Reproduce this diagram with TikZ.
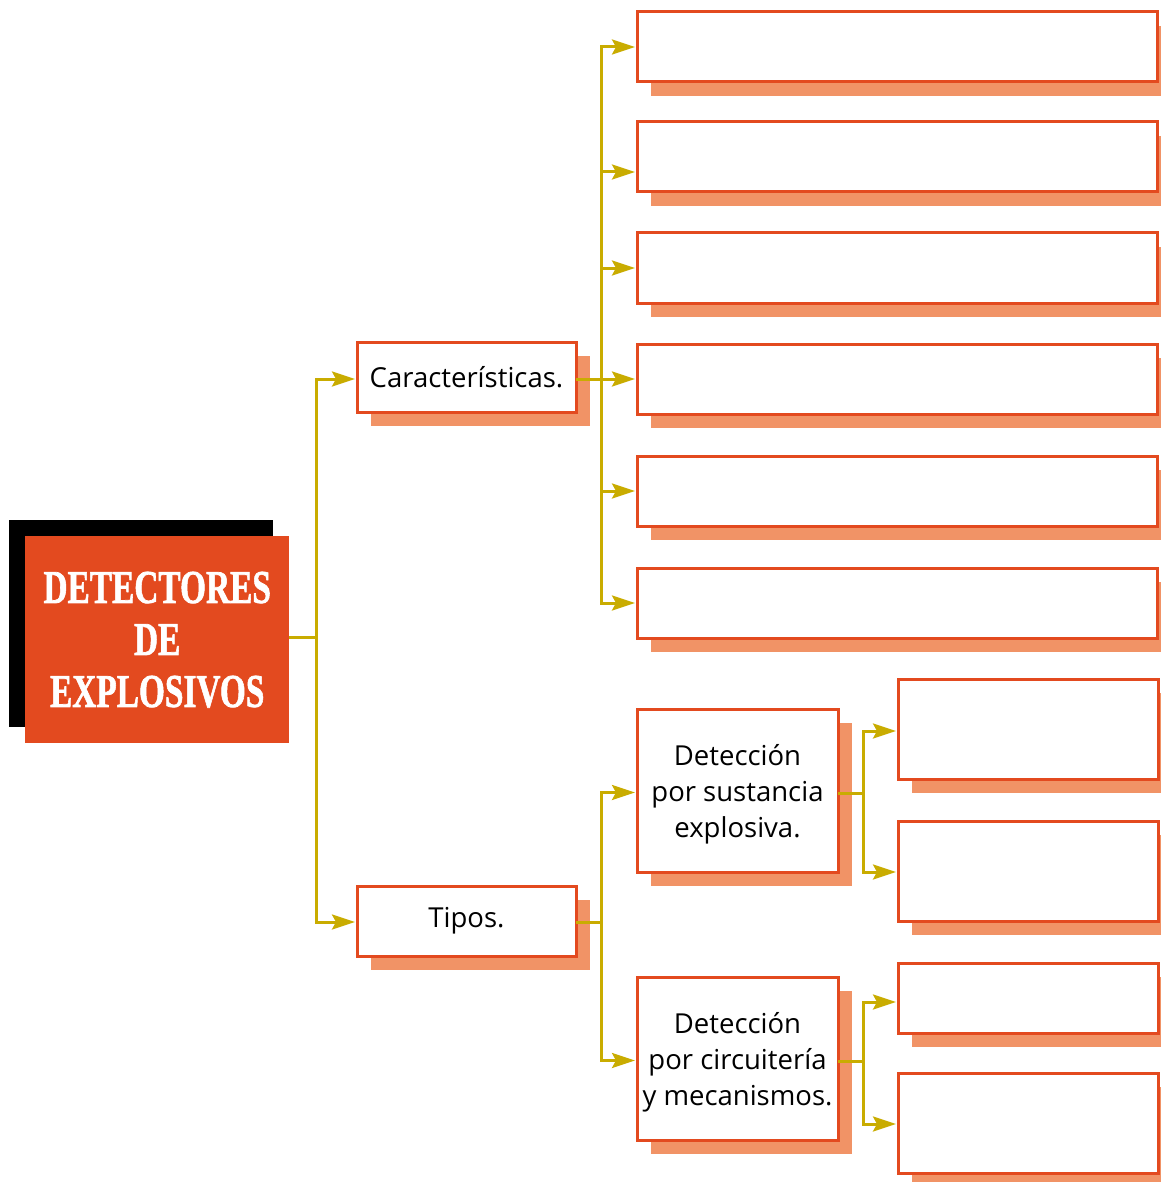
\documentclass[tikz,border=0pt]{standalone}
\usepackage{fontspec}
\setmainfont{Open Sans}
\newfontfamily\titlefont[FakeBold=1.6]{Liberation Serif Bold}
\usetikzlibrary{arrows.meta,shadows}
\definecolor{boxred}{HTML}{E34A1F}
\definecolor{shade}{HTML}{F19366}
\definecolor{linkc}{HTML}{C9AC00}
\tikzset{
  box/.style={draw=boxred, line width=3pt, fill=white, inner sep=0pt, outer sep=0pt,
    anchor=north west, align=center,
    general shadow={fill=shade, shadow xshift=13.5pt, shadow yshift=-14pt}},
  link/.style={draw=linkc, line width=3pt},
  arr/.style={link, -{Stealth[length=23pt,width=15pt,inset=4pt]}, shorten >=2pt},
  label/.style={font=\fontsize{27.5}{36}\selectfont},
  boxtext/.style={label, align=center, inner sep=0pt},
}
\begin{document}
\begin{tikzpicture}[x=1pt,y=-1pt]
\useasboundingbox (0,0) rectangle (1160,1182);

% title block with its black backing
\node[fill=black, minimum width=264pt, minimum height=207pt, inner sep=0pt, anchor=north west] (tback) at (9,520) {};
\node[fill=boxred, minimum width=264pt, minimum height=207pt, inner sep=0pt, anchor=north west,
      text=white, align=center, font=\titlefont\fontsize{47}{52}\selectfont] (t) at (25,536)
      {\scalebox{0.71}[1]{DETECTORES}\\\scalebox{0.71}[1]{DE}\\\scalebox{0.71}[1]{EXPLOSIVOS}};

% second level
\node[box, minimum width=219pt, minimum height=70pt, label] (car) at (357,342) {Características.};
\node[box, minimum width=219pt, minimum height=70pt, label] (tip) at (357,886) {Tipos.};

% characteristic boxes
\foreach \n/\y in {1/12,2/122,3/233,4/344,5/456,6/568}
  \node[box, minimum width=520pt, minimum height=70pt] (c\n) at (637,\y) {};

% types
\node[box, minimum width=201pt, minimum height=163pt] (d1) at (637,709) {};
\node[boxtext] (d1t) at ([yshift=-4pt]d1.center) {Detección\\por sustancia\\explosiva.};
\node[box, minimum width=201pt, minimum height=163pt] (d2) at (637,977) {};
\node[boxtext] (d2t) at ([yshift=-4pt]d2.center) {Detección\\por circuitería\\y mecanismos.};

% leaf boxes
\node[box, minimum width=260pt, minimum height=100pt] (s1) at (898,679) {};
\node[box, minimum width=260pt, minimum height=100pt] (s2) at (898,821) {};
\node[box, minimum width=260pt, minimum height=70pt] (s3) at (898,963) {};
\node[box, minimum width=260pt, minimum height=100pt] (s4) at (898,1073) {};

% junctions
\coordinate (j0) at (316,637);
\coordinate (j1) at (601,379);
\coordinate (j2) at (601,922);
\coordinate (j3) at (863,793);
\coordinate (j4) at (863,1061);

% connectors
\draw[link] (t.east |- j0) -- (j0);
\draw[arr] (j0) |- ([yshift=-2pt]car.west);
\draw[arr] (j0) |- ([yshift=-1pt]tip.west);

\draw[link] (car.east |- j1) -- (j1);
\draw[arr] (j1) |- (c1.west);
\draw[arr] (j1) |- ([yshift=-15pt]c2.west);
\draw[arr] (j1) |- (c3.west);
\draw[arr] (j1) |- (c4.west);
\draw[arr] (j1) |- (c5.west);
\draw[arr] (j1) |- (c6.west);

\draw[link] (tip.east |- j2) -- (j2);
\draw[arr] (j2) |- ([yshift=-2pt]d1.west);
\draw[arr] (j2) |- ([yshift=-2pt]d2.west);

\draw[link] (d1.east |- j3) -- (j3);
\draw[arr] (j3) |- ([yshift=-2pt]s1.west);
\draw[arr] (j3) |- ([yshift=-1pt]s2.west);

\draw[link] (d2.east |- j4) -- (j4);
\draw[arr] (j4) |- ([yshift=-4pt]s3.west);
\draw[arr] (j4) |- ([yshift=-1pt]s4.west);
\end{tikzpicture}
\end{document}
